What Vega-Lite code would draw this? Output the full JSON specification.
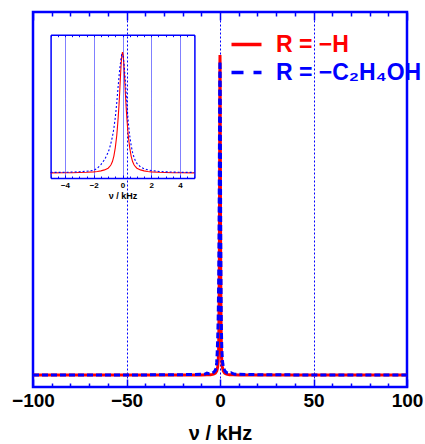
{
  "$schema": "https://vega.github.io/schema/vega-lite/v6.json",
  "width": 374,
  "height": 375,
  "autosize": {"type": "none"},
  "padding": {"left": 33, "top": 12, "right": 18, "bottom": 57},
  "background": "white",
  "config": {"view": {"stroke": "blue", "strokeWidth": 2.5}, "font": "Liberation Sans"},
  "datasets": {
    "spec": [
      {"nu": -100, "I": 0, "R": "H"}, {"nu": -50, "I": 0, "R": "H"}, {"nu": -20, "I": 0, "R": "H"}, {"nu": -10, "I": 0, "R": "H"},
      {"nu": -7, "I": 0.001, "R": "H"}, {"nu": -5, "I": 0.001, "R": "H"}, {"nu": -4, "I": 0.002, "R": "H"}, {"nu": -3.5, "I": 0.003, "R": "H"},
      {"nu": -3, "I": 0.004, "R": "H"}, {"nu": -2.5, "I": 0.006, "R": "H"}, {"nu": -2, "I": 0.01, "R": "H"}, {"nu": -1.75, "I": 0.013, "R": "H"},
      {"nu": -1.5, "I": 0.018, "R": "H"}, {"nu": -1.25, "I": 0.026, "R": "H"}, {"nu": -1, "I": 0.04, "R": "H"}, {"nu": -0.9, "I": 0.052, "R": "H"},
      {"nu": -0.8, "I": 0.068, "R": "H"}, {"nu": -0.7, "I": 0.095, "R": "H"}, {"nu": -0.6, "I": 0.14, "R": "H"}, {"nu": -0.5, "I": 0.21, "R": "H"},
      {"nu": -0.45, "I": 0.26, "R": "H"}, {"nu": -0.4, "I": 0.31, "R": "H"}, {"nu": -0.35, "I": 0.38, "R": "H"}, {"nu": -0.3, "I": 0.46, "R": "H"},
      {"nu": -0.25, "I": 0.55, "R": "H"}, {"nu": -0.2, "I": 0.66, "R": "H"}, {"nu": -0.15, "I": 0.78, "R": "H"}, {"nu": -0.1, "I": 0.89, "R": "H"},
      {"nu": -0.05, "I": 0.97, "R": "H"}, {"nu": 0, "I": 1, "R": "H"}, {"nu": 0.05, "I": 0.97, "R": "H"}, {"nu": 0.1, "I": 0.89, "R": "H"},
      {"nu": 0.15, "I": 0.78, "R": "H"}, {"nu": 0.2, "I": 0.66, "R": "H"}, {"nu": 0.25, "I": 0.55, "R": "H"}, {"nu": 0.3, "I": 0.46, "R": "H"},
      {"nu": 0.35, "I": 0.38, "R": "H"}, {"nu": 0.4, "I": 0.31, "R": "H"}, {"nu": 0.45, "I": 0.26, "R": "H"}, {"nu": 0.5, "I": 0.21, "R": "H"},
      {"nu": 0.6, "I": 0.14, "R": "H"}, {"nu": 0.7, "I": 0.095, "R": "H"}, {"nu": 0.8, "I": 0.068, "R": "H"}, {"nu": 0.9, "I": 0.052, "R": "H"},
      {"nu": 1, "I": 0.04, "R": "H"}, {"nu": 1.25, "I": 0.026, "R": "H"}, {"nu": 1.5, "I": 0.018, "R": "H"}, {"nu": 1.75, "I": 0.013, "R": "H"},
      {"nu": 2, "I": 0.01, "R": "H"}, {"nu": 2.5, "I": 0.006, "R": "H"}, {"nu": 3, "I": 0.004, "R": "H"}, {"nu": 3.5, "I": 0.003, "R": "H"},
      {"nu": 4, "I": 0.002, "R": "H"}, {"nu": 5, "I": 0.001, "R": "H"}, {"nu": 7, "I": 0.001, "R": "H"}, {"nu": 10, "I": 0, "R": "H"},
      {"nu": 20, "I": 0, "R": "H"}, {"nu": 50, "I": 0, "R": "H"}, {"nu": 100, "I": 0, "R": "H"},

      {"nu": -100, "I": 0, "R": "C"}, {"nu": -50, "I": 0, "R": "C"}, {"nu": -20, "I": 0.001, "R": "C"}, {"nu": -10, "I": 0.002, "R": "C"},
      {"nu": -8, "I": 0.003, "R": "C"}, {"nu": -7, "I": 0.006, "R": "C"}, {"nu": -6, "I": 0.004, "R": "C"}, {"nu": -5, "I": 0.005, "R": "C"},
      {"nu": -4, "I": 0.006, "R": "C"}, {"nu": -3.5, "I": 0.008, "R": "C"}, {"nu": -3, "I": 0.011, "R": "C"}, {"nu": -2.5, "I": 0.015, "R": "C"},
      {"nu": -2, "I": 0.022, "R": "C"}, {"nu": -1.75, "I": 0.04, "R": "C"}, {"nu": -1.5, "I": 0.07, "R": "C"}, {"nu": -1.25, "I": 0.11, "R": "C"},
      {"nu": -1, "I": 0.17, "R": "C"}, {"nu": -0.9, "I": 0.205, "R": "C"}, {"nu": -0.8, "I": 0.25, "R": "C"}, {"nu": -0.7, "I": 0.3, "R": "C"},
      {"nu": -0.6, "I": 0.37, "R": "C"}, {"nu": -0.5, "I": 0.46, "R": "C"}, {"nu": -0.4, "I": 0.58, "R": "C"}, {"nu": -0.3, "I": 0.72, "R": "C"},
      {"nu": -0.2, "I": 0.85, "R": "C"}, {"nu": -0.1, "I": 0.95, "R": "C"}, {"nu": -0.05, "I": 0.98, "R": "C"}, {"nu": 0, "I": 0.98, "R": "C"},
      {"nu": 0.05, "I": 0.96, "R": "C"}, {"nu": 0.1, "I": 0.91, "R": "C"}, {"nu": 0.2, "I": 0.76, "R": "C"}, {"nu": 0.3, "I": 0.58, "R": "C"},
      {"nu": 0.4, "I": 0.42, "R": "C"}, {"nu": 0.5, "I": 0.31, "R": "C"}, {"nu": 0.6, "I": 0.23, "R": "C"}, {"nu": 0.7, "I": 0.17, "R": "C"},
      {"nu": 0.8, "I": 0.13, "R": "C"}, {"nu": 0.9, "I": 0.1, "R": "C"}, {"nu": 1, "I": 0.08, "R": "C"}, {"nu": 1.25, "I": 0.05, "R": "C"},
      {"nu": 1.5, "I": 0.035, "R": "C"}, {"nu": 1.75, "I": 0.027, "R": "C"}, {"nu": 2, "I": 0.021, "R": "C"}, {"nu": 2.5, "I": 0.014, "R": "C"},
      {"nu": 3, "I": 0.01, "R": "C"}, {"nu": 3.5, "I": 0.008, "R": "C"}, {"nu": 4, "I": 0.006, "R": "C"}, {"nu": 5, "I": 0.005, "R": "C"},
      {"nu": 6, "I": 0.007, "R": "C"}, {"nu": 7, "I": 0.004, "R": "C"}, {"nu": 8, "I": 0.002, "R": "C"}, {"nu": 10, "I": 0.002, "R": "C"},
      {"nu": 20, "I": 0.001, "R": "C"}, {"nu": 50, "I": 0, "R": "C"}, {"nu": 100, "I": 0, "R": "C"}
    ]
  },
  "data": {"name": "spec"},
  "resolve": {"scale": {"x": "independent", "y": "independent"}},
  "layer": [
    {
      "layer": [
        {
          "transform": [{"filter": "datum.R === 'H'"}],
          "mark": {"type": "line", "strokeWidth": 3},
          "encoding": {
            "x": {
              "field": "nu", "type": "quantitative",
              "scale": {"domain": [-100, 100], "nice": false, "zero": false},
              "axis": {
                "orient": "bottom",
                "values": [-100, -90, -80, -70, -60, -50, -40, -30, -20, -10, 0, 10, 20, 30, 40, 50, 60, 70, 80, 90, 100],
                "domain": false,
                "tickColor": "blue", "tickWidth": 1.5,
                "tickSize": {"condition": {"test": "datum.value % 50 === 0", "value": -8}, "value": -4},
                "labelExpr": "datum.value % 50 === 0 ? datum.label : ''",
                "labelFont": "Liberation Sans", "labelFontWeight": "bold", "labelFontSize": 19, "labelColor": "black",
                "labelPadding": 12, "labelOverlap": false, "labelFlush": false, "labelBound": false,
                "grid": true, "gridColor": "blue", "gridDash": [2, 2], "gridWidth": 1,
                "gridOpacity": {"condition": {"test": "datum.value === -50 || datum.value === 0 || datum.value === 50", "value": 1}, "value": 0},
                "title": "ν / kHz", "titleFont": "Liberation Sans", "titleFontSize": 20, "titleFontWeight": "bold", "titleColor": "black", "titlePadding": 9
              }
            },
            "y": {"field": "I", "type": "quantitative", "scale": {"domain": [-0.0375, 1.134], "nice": false, "zero": false}, "axis": null},
            "color": {
              "field": "R", "type": "nominal",
              "scale": {"domain": ["H", "C"], "range": ["red", "blue"]},
              "legend": {
                "orient": "none", "legendX": 202, "legendY": 21, "title": null, "padding": 0,
                "symbolType": "M-2,0H2", "symbolSize": 225, "symbolStrokeWidth": 3.5,
                "labelFont": "Liberation Sans", "labelFontSize": 23, "labelFontWeight": "bold", "labelOffset": 18, "labelLimit": 300,
                "rowPadding": 4,
                "labelExpr": "datum.value === 'H' ? 'R = −H' : 'R = −C₂H₄OH'",
                "encode": {
                  "symbols": {"update": {"strokeDash": {"signal": "datum.value === 'C' ? [12, 10] : [1, 0]"}}},
                  "labels": {"update": {"fill": {"signal": "datum.value === 'H' ? 'red' : 'blue'"}}}
                }
              }
            }
          }
        },
        {
          "transform": [{"filter": "datum.R === 'C'"}],
          "mark": {"type": "line", "strokeWidth": 3, "strokeDash": [6, 3]},
          "encoding": {
            "x": {
              "field": "nu", "type": "quantitative",
              "scale": {"domain": [-100, 100], "nice": false, "zero": false},
              "axis": {
                "orient": "top",
                "values": [-100, -90, -80, -70, -60, -50, -40, -30, -20, -10, 0, 10, 20, 30, 40, 50, 60, 70, 80, 90, 100],
                "domain": false, "labels": false, "grid": false, "title": null,
                "tickColor": "blue", "tickWidth": 1.5,
                "tickSize": {"condition": {"test": "datum.value % 50 === 0", "value": -8}, "value": -4}
              }
            },
            "y": {"field": "I", "type": "quantitative", "scale": {"domain": [-0.0375, 1.134], "nice": false, "zero": false}, "axis": null},
            "color": {"field": "R", "type": "nominal", "scale": {"domain": ["H", "C"], "range": ["red", "blue"]}}
          }
        }
      ]
    },
    {
      "layer": [
        {
          "transform": [{"filter": "datum.R === 'H' && abs(datum.nu) <= 5"}],
          "mark": {"type": "line", "color": "red", "strokeWidth": 1.1},
          "encoding": {
            "x": {
              "field": "nu", "type": "quantitative",
              "scale": {"domain": [-5, 5], "range": [17.6, 161.4], "nice": false, "zero": false},
              "axis": {
                "orient": "bottom", "offset": -209,
                "values": [-5, -4.5, -4, -3.5, -3, -2.5, -2, -1.5, -1, -0.5, 0, 0.5, 1, 1.5, 2, 2.5, 3, 3.5, 4, 4.5, 5],
                "format": ".0f",
                "domain": true, "domainColor": "blue", "domainWidth": 1.5,
                "tickColor": "blue", "tickWidth": 1,
                "tickSize": {"condition": {"test": "datum.value % 2 === 0", "value": -3}, "value": -2},
                "labelExpr": "datum.value % 2 === 0 && abs(datum.value) < 5 ? datum.label : ''",
                "labelFont": "Liberation Sans", "labelFontSize": 8, "labelFontWeight": "bold", "labelColor": "black",
                "labelPadding": 6, "labelOverlap": false, "labelFlush": false, "labelBound": false,
                "grid": false,
                "title": "ν / kHz", "titleFont": "Liberation Sans", "titleFontSize": 9, "titleFontWeight": "bold", "titleColor": "black", "titlePadding": 1
              }
            },
            "y": {
              "field": "I", "type": "quantitative",
              "scale": {"domain": [-0.041, 1.143], "range": [166, 22.7], "nice": false, "zero": false},
              "axis": {"orient": "left", "offset": -17.6, "domainColor": "blue", "domainWidth": 1.5, "ticks": false, "labels": false, "grid": false, "title": null}
            }
          }
        },
        {
          "transform": [{"filter": "datum.R === 'C' && abs(datum.nu) <= 5"}],
          "mark": {"type": "line", "color": "blue", "strokeWidth": 1.1, "strokeDash": [2, 2]},
          "encoding": {
            "x": {
              "field": "nu", "type": "quantitative",
              "scale": {"domain": [-5, 5], "range": [17.6, 161.4], "nice": false, "zero": false},
              "axis": {
                "orient": "top", "offset": -22.7,
                "values": [-5, -4.5, -4, -3.5, -3, -2.5, -2, -1.5, -1, -0.5, 0, 0.5, 1, 1.5, 2, 2.5, 3, 3.5, 4, 4.5, 5],
                "domain": true, "domainColor": "blue", "domainWidth": 1.5,
                "labels": false, "title": null,
                "tickColor": "blue", "tickWidth": 1, "tickSize": -2,
                "grid": true, "gridColor": "blue", "gridDash": [1, 1], "gridWidth": 1,
                "gridOpacity": {"condition": {"test": "datum.value % 2 === 0 && abs(datum.value) < 5", "value": 1}, "value": 0}
              }
            },
            "y": {
              "field": "I", "type": "quantitative",
              "scale": {"domain": [-0.041, 1.143], "range": [166, 22.7], "nice": false, "zero": false},
              "axis": {"orient": "right", "offset": -212.6, "domainColor": "blue", "domainWidth": 1.5, "ticks": false, "labels": false, "grid": false, "title": null}
            }
          }
        }
      ]
    }
  ]
}
